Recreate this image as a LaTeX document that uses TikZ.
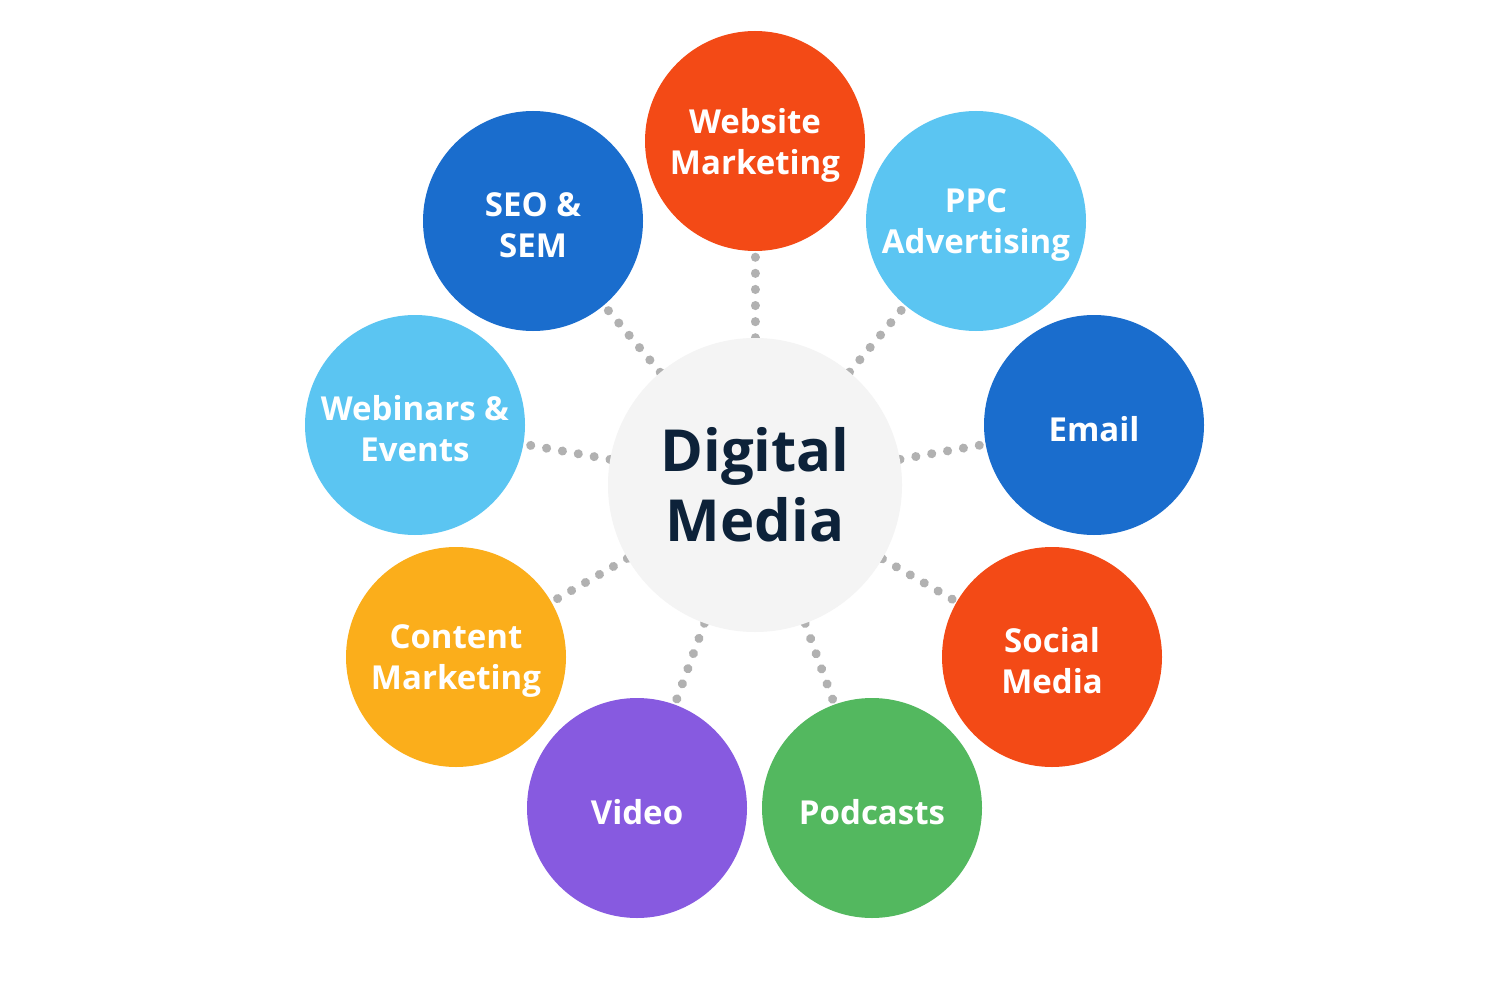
\documentclass[tikz,border=0pt]{standalone}
\usepackage{fontspec}
\setmainfont{Open Sans}
\usetikzlibrary{backgrounds}

\definecolor{webred}{HTML}{F34A16}
\definecolor{skyblue}{HTML}{5BC5F2}
\definecolor{deepblue}{HTML}{1A6DCD}
\definecolor{amber}{HTML}{FBAE1B}
\definecolor{violet}{HTML}{875AE0}
\definecolor{leafgreen}{HTML}{53B85F}
\definecolor{hubgray}{HTML}{F4F4F4}
\definecolor{navy}{HTML}{0D2239}
\definecolor{dotgray}{HTML}{B1B1B1}

\begin{document}
\begin{tikzpicture}[x=1pt, y=-1pt, line join=round, line cap=round,
	hub/.style={circle, fill=hubgray, minimum size=294pt, inner sep=0pt, align=center,
		text=navy, font=\fontsize{58}{70}\selectfont\bfseries},
	bubble/.style={circle, minimum size=220pt, inner sep=0pt},
	bubtext/.style={align=center, text=white, inner sep=0pt, yshift=-4pt,
		font=\fontsize{33}{41}\selectfont\bfseries},
	dotline/.style={dotgray, line width=9pt, line cap=round, dash pattern=on 0.1pt off 16pt}]
	
	% ==========================================
	% NỀN VÀ KHUNG
	% ==========================================
	\useasboundingbox (0,0) rectangle (1509,984);
	
	% Vòng tròn trung tâm
	\node[hub] (hub) at (755,485) {Digital\\Media};
	
	% ==========================================
	% CÁC VÒNG TRÒN BÊN NGOÀI
	% ==========================================
	\foreach \name/\x/\y/\col/\txt in {
		web/755/141/webred/{Website\\Marketing},
		ppc/976/221/skyblue/{PPC\\Advertising},
		email/1094/425/deepblue/{Email},
		social/1052/657/webred/{Social\\Media},
		pod/872/808/leafgreen/{Podcasts},
		video/637/808/violet/{Video},
		content/456/657/amber/{Content\\Marketing},
		webinar/415/425/skyblue/{Webinars \&\\Events},
		seo/533/221/deepblue/{SEO \&\\SEM}} {
		\node[bubble, fill=\col] (\name) at (\x,\y) {};
		\node[bubtext] (\name-txt) at (\name) {\txt};
	}
	
	% Đường chấm nối tâm với các vòng tròn (lớp nền)
	\begin{pgfonlayer}{background}
		\fill[white] (0,0) rectangle (1509,984);
		\foreach \name in {web, ppc, email, social, pod, video, content, webinar, seo} {
			\draw[dotline] (hub) -- (\name);
		}
	\end{pgfonlayer}
\end{tikzpicture}
\end{document}
